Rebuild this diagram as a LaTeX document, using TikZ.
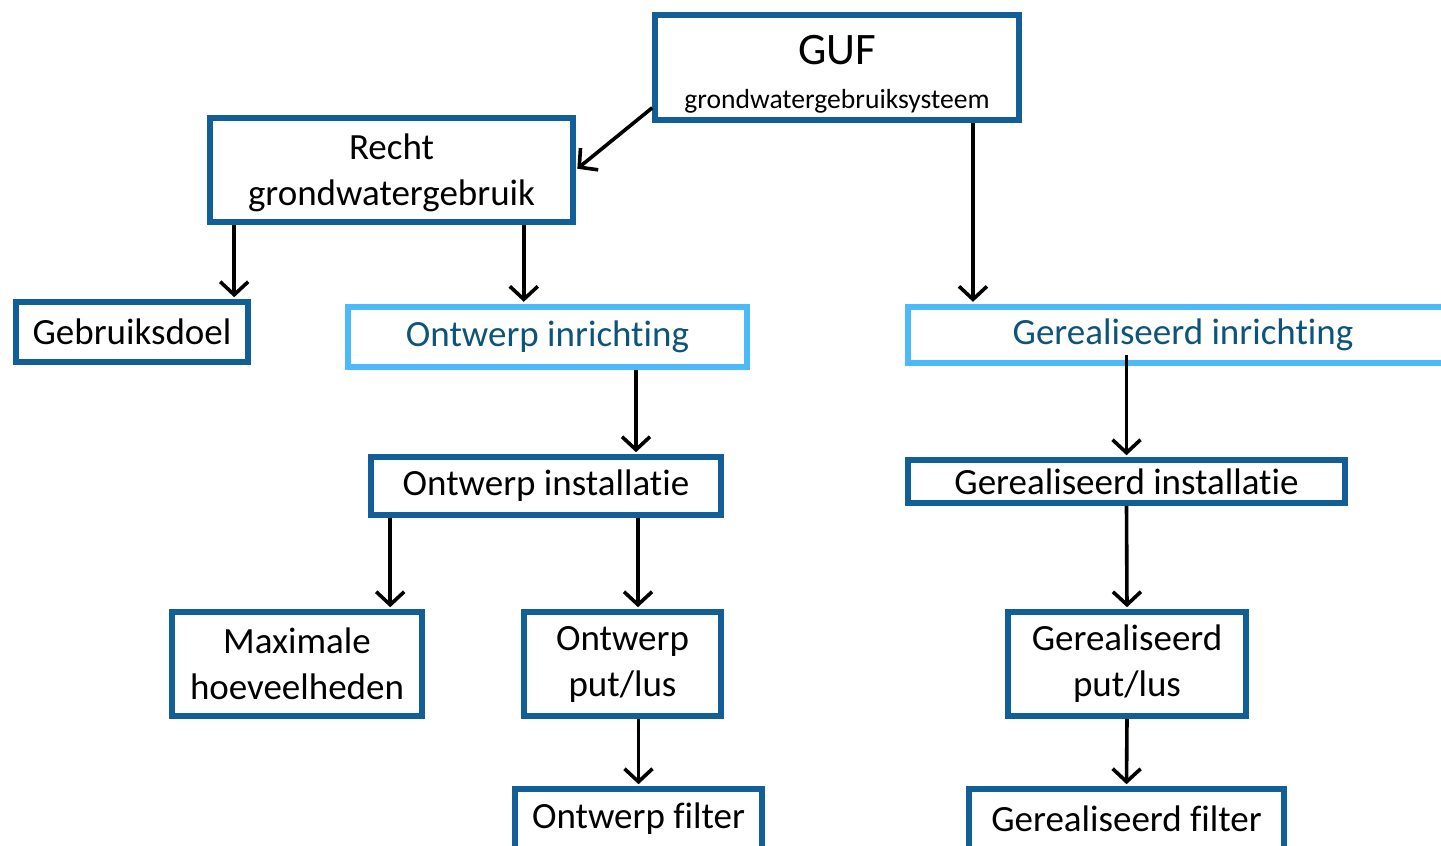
\documentclass[tikz,border=0pt]{standalone}
\usepackage{fontspec}
\setmainfont[Ligatures=NoCommon]{Carlito}
\usetikzlibrary{arrows.meta}
\usepackage{xcolor}

\begin{document}
\begin{tikzpicture}[x=0.5pt,y=-0.5pt,
  darkbox/.style={draw=boxcolor,line width=2.8pt,fill=white,inner sep=0pt,align=center,font=\fontsize{18.5}{23}\selectfont},
  lightbox/.style={draw=lightcolor,line width=3.2pt,fill=white,inner sep=0pt,align=center,text=textcolor,font=\fontsize{18.5}{23}\selectfont},
  conn/.style={-{Straight Barb[length=6.5pt,width=14pt]},line width=1.8pt,black,shorten >=1pt}]
\definecolor{boxcolor}{RGB}{18,94,150} % Definition of the dark border color
\definecolor{lightcolor}{RGB}{75,185,250} % Definition of the light border color
\definecolor{textcolor}{RGB}{14,84,122} % Definition of the text color in the light boxes
\useasboundingbox (0,0) rectangle (1441,846); % Size of the picture
\clip (0,0) rectangle (1441,846); % Cut the boxes at the border of the picture

\node[darkbox,minimum width=182pt,minimum height=52.5pt] (guf) at (837,67.5) {\rule{0pt}{21pt}{\fontsize{22.5}{27}\selectfont GUF}\\[-1pt]{\fontsize{13.8}{17}\selectfont grondwatergebruiksysteem}}; % Top box
\node[darkbox,minimum width=181.5pt,minimum height=52pt] (recht) at (391.5,170) {\rule{0pt}{16pt}Recht\\grondwatergebruik}; % Box of the right
\node[darkbox,minimum width=116pt,minimum height=30pt] (doel) at (132,332) {Gebruiksdoel}; % Box of the use
\node[lightbox,minimum width=199.5pt,minimum height=30pt] (oinr) at (547.5,337) {Ontwerp inrichting}; % Designed layout
\node[lightbox,minimum width=275pt,minimum height=28pt] (ginr) at (1183,335) {Gerealiseerd inrichting}; % Realised layout
\node[darkbox,minimum width=175pt,minimum height=29pt] (oinst) at (546,486) {Ontwerp installatie}; % Designed installation
\node[darkbox,minimum width=218.5pt,minimum height=21.5pt] (ginst) at (1126.5,481.5) {Gerealiseerd installatie}; % Realised installation
\node[darkbox,minimum width=125pt,minimum height=52pt] (maxh) at (297,664) {Maximale\\hoeveelheden}; % Maximal amounts
\node[darkbox,minimum width=98.5pt,minimum height=52pt] (oput) at (622.5,664) {Ontwerp\\put/lus}; % Designed well
\node[darkbox,minimum width=119pt,minimum height=52pt] (gput) at (1127,664) {Gerealiseerd\\put/lus}; % Realised well
\node[darkbox,minimum width=123.5pt,minimum height=30pt] (ofil) at (638.5,819) {Ontwerp filter}; % Designed filter
\node[darkbox,minimum width=157.5pt,minimum height=30pt] (gfil) at (1126.5,819) {Gerealiseerd filter}; % Realised filter

\draw[conn] ([yshift=7.5pt]guf.south west) -- (recht.east); % Arrow to the right
\draw[conn] ([xshift=68pt]guf.south) -- ([xshift=68pt]guf.south |- ginr.north); % Arrow to the realised layout
\draw[conn] ([xshift=13.5pt]recht.south west) -- ([xshift=13.5pt]recht.south west |- doel.north); % Arrow to the use
\draw[conn] ([xshift=-26pt]recht.south east) -- ([xshift=-26pt]recht.south east |- oinr.north); % Arrow to the designed layout
\draw[conn] ([xshift=44.25pt]oinr.south) -- ([xshift=44.25pt]oinr.south |- oinst.north); % Arrow to the designed installation
\draw[conn] ([yshift=5.5pt]ginst.north |- ginr.south) -- (ginst.north); % Arrow to the realised installation
\draw[conn] ([xshift=11pt]oinst.south west) -- ([xshift=11pt]oinst.south west |- maxh.north); % Arrow to the maximal amounts
\draw[conn] ([xshift=46pt]oinst.south) -- ([xshift=46pt]oinst.south |- oput.north); % Arrow to the designed well
\draw[conn] (ginst.south) -- (gput.north); % Arrow to the realised well
\draw[conn] (ofil.north |- oput.south) -- (ofil.north); % Arrow to the designed filter
\draw[conn] (gput.south) -- (gfil.north); % Arrow to the realised filter

\end{tikzpicture}
\end{document}
